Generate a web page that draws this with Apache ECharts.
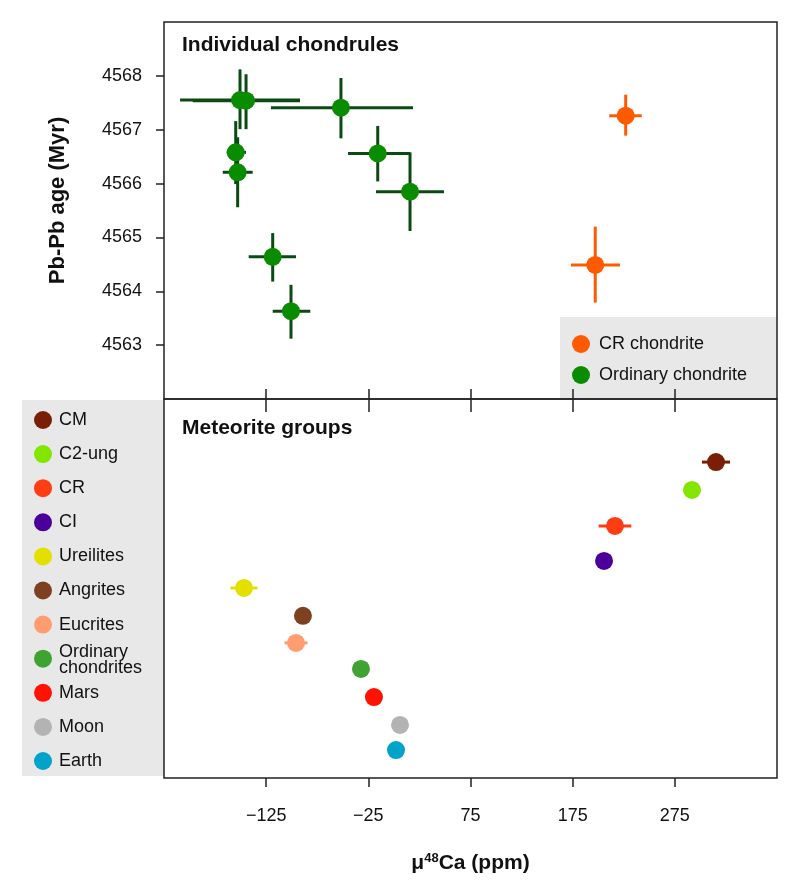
<!DOCTYPE html>
<html><head><meta charset="utf-8">
<script src="https://cdn.jsdelivr.net/npm/echarts@6/dist/echarts.min.js"></script>
<style>html,body{margin:0;padding:0;background:#fff}#c{width:800px;height:886px}</style>
</head><body><div id="c"></div>
<script>
// ---- Individual chondrules: ordinary chondrite ----
const ocCa    = [-150.6, -144.7, -51.8, -154.8, -152.9, -15.8, 15.8, -118.6, -100.7];
const ocCaLo  = [-209.3, -196.9, -120.3, -163.6, -167.5, -44.9, -17.5, -142.1, -118.6];
const ocCaHi  = [-91.9, -91.9, 18.7, -144.7, -138.2, 15.8, 49.1, -95.8, -81.8];
const ocAge   = [4567.55, 4567.54, 4567.41, 4566.58, 4566.21, 4566.56, 4565.85, 4564.64, 4563.63];
const ocAgeLo = [4567.01, 4567.01, 4566.84, 4565.99, 4565.56, 4566.04, 4565.12, 4564.18, 4563.12];
const ocAgeHi = [4568.12, 4568.03, 4567.96, 4567.16, 4566.86, 4567.07, 4566.58, 4565.08, 4564.12];
// ---- Individual chondrules: CR chondrite ----
const crCa    = [197.1, 226.9];
const crCaLo  = [173.4, 210.8];
const crCaHi  = [221.3, 242.6];
const crAge   = [4564.49, 4567.26];
const crAgeLo = [4563.79, 4566.89];
const crAgeHi = [4565.20, 4567.65];
// ---- Meteorite groups ----
const groupNames  = ['CM', 'C2-ung', 'CR', 'CI', 'Ureilites', 'Angrites', 'Eucrites', 'Ordinary\nchondrites', 'Mars', 'Moon', 'Earth'];
const groupCa     = [315.3, 291.8, 216.4, 205.7, -146.7, -89.0, -95.8, -32.2, -19.5, 6.0, 2.1];
const groupCaErr  = [13.7, 5, 16.0, 5, 13.2, 5, 11.3, 5, 5, 5, 5];
const groupRow    = [11.67, 10.64, 9.31, 8.02, 7.02, 5.99, 4.99, 4.03, 2.99, 1.96, 1.03];
const groupColors = ['#7a1f05', '#82e600', '#ff3d12', '#4a0099', '#e3e000', '#7d4020', '#ff9c70', '#3fa332', '#ff1200', '#b3b3b3', '#00a3c9'];
// ---- ticks ----
const caTicks  = [-125, -25, 75, 175, 275];
const ageTicks = [4563, 4564, 4565, 4566, 4567, 4568];

const FONT = '"Liberation Sans", Arial, Helvetica, sans-serif';
const OC_MARK = '#0a8c00', OC_BAR = '#0b4a12', CR_COL = '#ff5a00';

function rows(x, xl, xh, y, yl, yh) { return x.map((v, i) => [v, y[i], xl[i], xh[i], yl[i], yh[i]]); }
function errRender(color) {
  return function (params, api) {
    const x = api.value(0), y = api.value(1);
    const a = api.coord([api.value(2), y]), b = api.coord([api.value(3), y]);
    const c = api.coord([x, api.value(4)]), d = api.coord([x, api.value(5)]);
    const col = typeof color === 'function' ? color(params.dataIndex) : color;
    const style = { stroke: col, lineWidth: 3 };
    return { type: 'group', children: [
      { type: 'line', shape: { x1: a[0], y1: a[1], x2: b[0], y2: b[1] }, style },
      { type: 'line', shape: { x1: c[0], y1: c[1], x2: d[0], y2: d[1] }, style }
    ] };
  };
}
const fmtCa = v => (v < 0 ? '\u2212' + (-v) : '' + v);

const chart = echarts.init(document.getElementById('c'), null, { renderer: 'canvas' });

const baseX = { type: 'value', min: -225, max: 375, splitLine: { show: false }, axisLine: { show: false, onZero: false } };
const tickStyle = { color: '#222', width: 1.5 };

const legendTop = [
  { type: 'rect', z: -10, shape: { x: 560, y: 317, width: 217, height: 82 }, style: { fill: '#e8e8e8' } },
  { type: 'circle', shape: { cx: 581, cy: 344, r: 9 }, style: { fill: CR_COL } },
  { type: 'text', x: 599, y: 344, style: { text: 'CR chondrite', font: '18px ' + FONT, fill: '#111', verticalAlign: 'middle' } },
  { type: 'circle', shape: { cx: 581, cy: 375, r: 9 }, style: { fill: OC_MARK } },
  { type: 'text', x: 599, y: 375, style: { text: 'Ordinary chondrite', font: '18px ' + FONT, fill: '#111', verticalAlign: 'middle' } }
];
const legendBottom = [{ type: 'rect', z: -10, shape: { x: 22, y: 400, width: 142, height: 376 }, style: { fill: '#e8e8e8' } }];
groupNames.forEach((n, i) => {
  const cy = 420 + i * 34.1;
  legendBottom.push({ type: 'circle', shape: { cx: 43, cy: cy, r: 9 }, style: { fill: groupColors[i] } });
  legendBottom.push({ type: 'text', x: 59, y: cy + (n.indexOf('\n') >= 0 ? 1.5 : 0), style: { text: n, font: '18px ' + FONT, fill: '#111', verticalAlign: 'middle', lineHeight: 16.5 } });
});

chart.setOption({
  animation: false,
  backgroundColor: '#fff',
  textStyle: { fontFamily: FONT },
  grid: [
    { left: 164, top: 22, width: 613, height: 377, show: true, borderColor: '#222', borderWidth: 1.5, backgroundColor: 'transparent' },
    { left: 164, top: 399, width: 613, height: 379, show: true, borderColor: '#222', borderWidth: 1.5, backgroundColor: 'transparent' }
  ],
  xAxis: [
    Object.assign({}, baseX, { gridIndex: 0, position: 'bottom', axisLabel: { show: false },
      axisTick: { inside: true, length: 10, lineStyle: tickStyle, customValues: caTicks } }),
    Object.assign({}, baseX, { gridIndex: 1, position: 'top', axisLabel: { show: false },
      axisTick: { inside: true, length: 13, lineStyle: tickStyle, customValues: caTicks } }),
    Object.assign({}, baseX, { gridIndex: 1, position: 'bottom',
      axisTick: { inside: false, length: 9, lineStyle: tickStyle, customValues: caTicks },
      axisLabel: { customValues: caTicks, formatter: fmtCa, fontSize: 18, color: '#111', margin: 29, fontFamily: FONT },
      name: '{b|\u03bc}{s|48}{b|Ca (ppm)}', nameLocation: 'middle', nameGap: 74,
      nameTextStyle: { rich: {
        b: { fontSize: 21, fontWeight: 'bold', color: '#111', fontFamily: FONT },
        s: { fontSize: 13, fontWeight: 'bold', color: '#111', fontFamily: FONT, padding: [0, 0, 9, 0] } } } })
  ],
  yAxis: [
    { type: 'value', gridIndex: 0, min: 4562, max: 4569, splitLine: { show: false }, axisLine: { show: false, onZero: false },
      axisTick: { show: true, length: 8, lineStyle: tickStyle, customValues: ageTicks },
      axisLabel: { customValues: ageTicks, formatter: v => String(v), fontSize: 18, color: '#111', margin: 22, fontFamily: FONT },
      name: 'Pb-Pb age (Myr)', nameLocation: 'middle', nameGap: 95,
      nameTextStyle: { fontSize: 22, fontWeight: 'bold', color: '#111', fontFamily: FONT, padding: [0, 0, 0, 20] } },
    { type: 'value', gridIndex: 1, min: 0, max: 14, show: false, axisLine: { onZero: false } }
  ],
  graphic: [
    { type: 'text', x: 182, y: 45, style: { text: 'Individual chondrules', font: 'bold 21px ' + FONT, fill: '#111', verticalAlign: 'middle' } },
    { type: 'text', x: 182, y: 428, style: { text: 'Meteorite groups', font: 'bold 21px ' + FONT, fill: '#111', verticalAlign: 'middle' } }
  ].concat(legendTop, legendBottom),
  series: [
    { name: 'OC err', type: 'custom', xAxisIndex: 0, yAxisIndex: 0, renderItem: errRender(OC_BAR),
      encode: { x: 0, y: 1 }, data: rows(ocCa, ocCaLo, ocCaHi, ocAge, ocAgeLo, ocAgeHi), z: 2 },
    { name: 'CR err', type: 'custom', xAxisIndex: 0, yAxisIndex: 0, renderItem: errRender(CR_COL),
      encode: { x: 0, y: 1 }, data: rows(crCa, crCaLo, crCaHi, crAge, crAgeLo, crAgeHi), z: 2 },
    { name: 'Ordinary chondrite', type: 'scatter', xAxisIndex: 0, yAxisIndex: 0, symbolSize: 18,
      itemStyle: { color: OC_MARK, opacity: 1 }, data: ocCa.map((v, i) => [v, ocAge[i]]), z: 3 },
    { name: 'CR chondrite', type: 'scatter', xAxisIndex: 0, yAxisIndex: 0, symbolSize: 18,
      itemStyle: { color: CR_COL, opacity: 1 }, data: crCa.map((v, i) => [v, crAge[i]]), z: 3 },
    { name: 'Groups err', type: 'custom', xAxisIndex: 2, yAxisIndex: 1, renderItem: errRender(i => groupColors[i]),
      encode: { x: 0, y: 1 },
      data: groupCa.map((v, i) => [v, groupRow[i], v - groupCaErr[i], v + groupCaErr[i], groupRow[i], groupRow[i]]), z: 2 },
    { name: 'Meteorite groups', type: 'scatter', xAxisIndex: 2, yAxisIndex: 1, symbolSize: 18, z: 3,
      data: groupCa.map((v, i) => ({ value: [v, groupRow[i]], itemStyle: { color: groupColors[i], opacity: 1 } })) }
  ]
});
</script></body></html>
